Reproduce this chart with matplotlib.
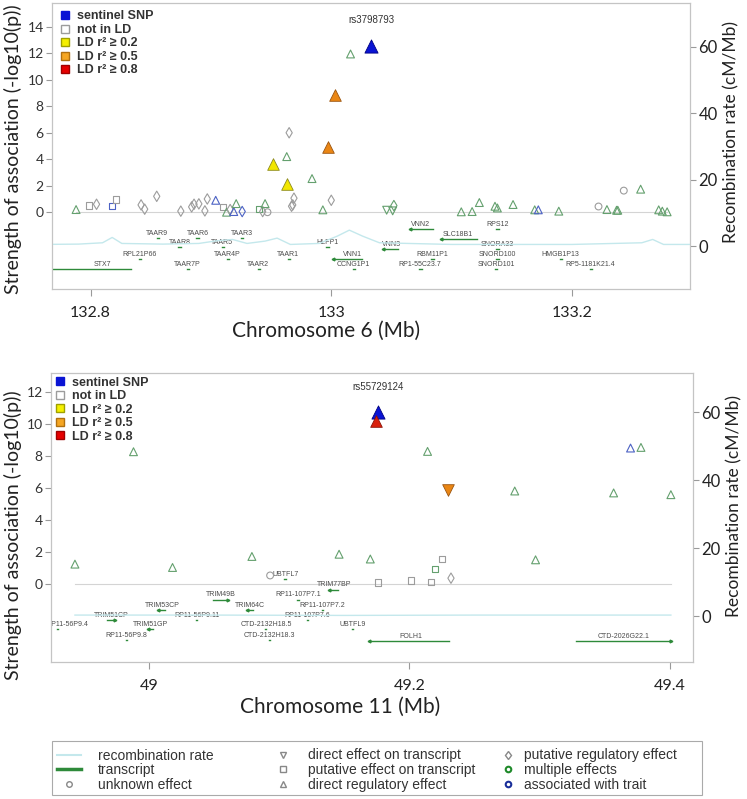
import matplotlib
matplotlib.use("Agg")
import matplotlib.pyplot as plt
from matplotlib.lines import Line2D
from matplotlib.patches import Rectangle

plt.rcParams['font.family'] = ['Lato', 'DejaVu Sans']
ARIAL = ['Liberation Sans', 'DejaVu Sans']
NARROW = ['Liberation Sans Narrow', 'Liberation Sans', 'DejaVu Sans']

# ---------------- chromosome 6 locus (top panel) ----------------
# shape: ^ direct regulatory, v direct on transcript, s putative on transcript,
#        d putative regulatory, o unknown
# edge:  g = single effect, m = multiple effects, t = associated with trait
# ld:    '' not in LD, '0.2', '0.5', '0.8', 'sent' sentinel
chr6_pos = [132.788, 132.799, 132.805, 132.818, 132.821, 132.842, 132.845, 132.855,
            132.875, 132.884, 132.886, 132.890, 132.895, 132.897, 132.904, 132.910,
            132.913, 132.916, 132.919, 132.921, 132.926, 132.940, 132.943, 132.945,
            132.947, 132.952, 132.963, 132.965, 132.963, 132.967, 132.968, 132.969,
            132.984, 132.993, 132.997, 133.000, 133.003, 133.016, 133.033, 133.046,
            133.051, 133.052, 133.108, 133.117, 133.123, 133.136, 133.138, 133.151,
            133.169, 133.172, 133.189, 133.222, 133.229, 133.237, 133.238, 133.243,
            133.257, 133.272, 133.275, 133.279]
chr6_logp = [0.2, 0.5, 0.6, 0.45, 0.96, 0.55, 0.23, 1.2,
             0.08, 0.4, 0.6, 0.63, 0.1, 1.0, 0.9, 0.4,
             0.0, 0.2, 0.05, 0.65, 0.05, 0.25, 0.05, 0.65,
             0.0, 3.67, 4.2, 6.0, 2.14, 0.45, 0.55, 1.06,
             2.54, 0.18, 4.96, 0.9, 8.88, 11.95, 12.53, 0.15,
             0.1, 0.5, 0.03, 0.05, 0.73, 0.45, 0.32, 0.58,
             0.18, 0.18, 0.08, 0.43, 0.2, 0.15, 0.15, 1.63,
             1.74, 0.18, 0.08, 0.03]
chr6_shape = ['^', 's', 'd', 's', 's', 'd', 'd', 'd',
              'd', 'd', 'd', 'd', 'd', 'd', '^', 's',
              '^', 'd', '^', '^', 'd', 's', 'd', '^',
              'o', '^', '^', 'd', '^', 'd', 'd', 'd',
              '^', '^', '^', 'd', '^', '^', '^', 'v',
              'v', 'd', '^', '^', '^', '^', '^', '^',
              '^', '^', '^', 'o', '^', '^', '^', 'o',
              '^', '^', '^', '^']
chr6_edge = ['m', 'g', 'g', 't', 'g', 'g', 'g', 'g',
             'g', 'g', 'g', 'g', 'g', 'g', 't', 'g',
             'm', 'g', 't', 'm', 't', 'm', 'g', 'm',
             'g', 'g', 'm', 'g', 'g', 'g', 'g', 'g',
             'm', 'm', 'g', 'g', 'g', 'm', 't', 'm',
             'm', 'm', 'm', 'm', 'm', 'm', 'm', 'm',
             'm', 't', 'm', 'g', 'm', 'm', 'm', 'g',
             'm', 'm', 'm', 'm']
chr6_ld = [''] * 60
chr6_ld[25] = '0.2'
chr6_ld[28] = '0.2'
chr6_ld[34] = '0.5'
chr6_ld[36] = '0.5'
chr6_ld[38] = 'sent'
chr6_sentinel = 'rs3798793'

chr6_recomb_pos = [132.76, 132.79, 132.81, 132.818, 132.826, 132.86, 132.89, 132.905,
                   132.918, 132.93, 132.945, 132.955, 132.966, 132.99, 133.005, 133.015,
                   133.026, 133.04, 133.1, 133.2, 133.258, 133.267, 133.276, 133.3]
chr6_recomb_rate = [0.5, 0.6, 1.0, 2.6, 0.8, 0.6, 0.8, 1.6,
                    2.0, 0.8, 1.5, 2.4, 0.5, 0.8, 3.0, 4.8,
                    3.0, 1.0, 0.5, 0.5, 1.0, 2.0, 0.5, 0.5]

chr6_genes = ['TAAR9', 'TAAR6', 'TAAR3', 'TAAR8', 'TAAR5', 'HLFP1', 'RPL21P66', 'TAAR4P',
              'TAAR1', 'VNN1', 'STX7', 'TAAR7P', 'TAAR2', 'CCNG1P1', 'VNN2', 'RPS12',
              'SLC18B1', 'VNN3', 'SNORA33', 'RBM11P1', 'SNORD100', 'HMGB1P13',
              'RP1-55C23.7', 'SNORD101', 'RP5-1181K21.4']
chr6_gene_start = [132.855, 132.888, 132.925, 132.873, 132.909, 132.996, 132.840, 132.913,
                   132.964, 133.0017, 132.74, 132.880, 132.939, 133.018, 133.0656, 133.137,
                   133.0913, 133.0432, 133.137, 133.083, 133.137, 133.190,
                   133.073, 133.136, 133.215]
chr6_gene_end = [132.857, 132.890, 132.927, 132.875, 132.911, 132.998, 132.842, 132.915,
                 132.966, 133.0257, 132.834, 132.882, 132.941, 133.020, 133.0846, 133.139,
                 133.1212, 133.0556, 133.139, 133.085, 133.139, 133.192,
                 133.075, 133.138, 133.217]
chr6_gene_row = [-1.96, -1.96, -1.96, -2.64, -2.64, -2.64, -3.55, -3.55,
                 -3.55, -3.55, -4.3, -4.3, -4.3, -4.3, -1.28, -1.28,
                 -2.04, -2.79, -2.79, -3.55, -3.55, -3.55,
                 -4.3, -4.3, -4.3]
chr6_gene_label_x = [132.8556, 132.8888, 132.9261, 132.8739, 132.9095, 132.9967, 132.8407, 132.9137,
                     132.9643, 133.0174, 132.810, 132.8805, 132.9394, 133.0183, 133.0739, 133.1378,
                     133.1054, 133.0498, 133.1378, 133.0838, 133.1378, 133.190,
                     133.0739, 133.1369, 133.215]
chr6_gene_strand = ['', '', '', '', '', '', '', '', '', '<', '', '', '', '', '<', '',
                    '<', '<', '', '', '', '', '', '', '']

# ---------------- chromosome 11 locus (bottom panel) ----------------
chr11_pos = [48.943, 48.988, 49.018, 49.079, 49.093, 49.146, 49.170, 49.176,
             49.174, 49.176, 49.214, 49.2015, 49.2164, 49.220, 49.2254, 49.232,
             49.2295, 49.281, 49.297, 49.357, 49.370, 49.378, 49.401]
chr11_logp = [1.23, 8.27, 1.02, 1.71, 0.52, 1.85, 1.55, 10.73,
              10.19, 0.08, 8.29, 0.2, 0.1, 0.94, 1.54, 0.35,
              5.87, 5.81, 1.5, 5.69, 8.5, 8.54, 5.58]
chr11_shape = ['^', '^', '^', '^', 'o', '^', '^', '^',
               '^', 's', '^', 's', 's', 's', 's', 'd',
               'v', '^', '^', '^', '^', '^', '^']
chr11_edge = ['m', 'm', 'm', 'm', 'g', 'm', 'm', 't',
              'g', 'g', 'm', 'g', 'g', 'm', 'g', 'g',
              'g', 'm', 'm', 'm', 't', 'm', 'm']
chr11_ld = [''] * 23
chr11_ld[7] = 'sent'
chr11_ld[8] = '0.8'
chr11_ld[16] = '0.5'
chr11_sentinel = 'rs55729124'

chr11_recomb_pos = [48.943, 49.05, 49.15, 49.25, 49.35, 49.401]
chr11_recomb_rate = [0.3, 0.3, 0.2, 0.3, 0.3, 0.3]

chr11_genes = ['UBTFL7', 'TRIM77BP', 'TRIM49B', 'RP11-107P7.1', 'TRIM53CP', 'TRIM64C',
               'RP11-107P7.2', 'TRIM51CP', 'RP11-56P9.11', 'RP11-107P7.6', 'RP11-56P9.4',
               'TRIM51GP', 'CTD-2132H18.5', 'UBTFL9', 'RP11-56P9.8', 'CTD-2132H18.3',
               'FOLH1', 'CTD-2026G22.1']
chr11_gene_start = [49.104, 49.138, 49.049, 49.114, 49.007, 49.075,
                    49.1325, 48.968, 49.036, 49.121, 48.929,
                    48.999, 49.089, 49.156, 48.982, 49.092,
                    49.1687, 49.3277]
chr11_gene_end = [49.105, 49.145, 49.061, 49.115, 49.012, 49.080,
                  49.1335, 48.974, 49.037, 49.122, 48.930,
                  49.003, 49.090, 49.157, 48.983, 49.093,
                  49.2302, 49.4008]
chr11_gene_row = [0.27, -0.36, -1.0, -1.0, -1.67, -1.67,
                  -1.67, -2.29, -2.29, -2.29, -2.86,
                  -2.86, -2.86, -2.86, -3.54, -3.54,
                  -3.6, -3.6]
chr11_gene_label_x = [49.1046, 49.1425, 49.0554, 49.1144, 49.0105, 49.0777,
                      49.1328, 48.9708, 49.0367, 49.1213, 48.9375,
                      49.0008, 49.090, 49.1564, 48.9823, 49.0925,
                      49.2008, 49.3649]
chr11_gene_strand = ['', '<', '>', '', '<', '<', '', '>', '', '', '',
                     '<', '', '', '', '', '<', '>']

# ---------------- styles ----------------
EDGE = {'g': '#9c9c9c', 'm': '#64a06e', 't': '#4c62c4'}
FILL = {'0.2': '#f2e600', '0.5': '#ea8614', '0.8': '#d9200c', 'sent': '#0a14d4'}
FILL_EDGE = {'0.2': '#8c8a1c', '0.5': '#9a5410', '0.8': '#8a1408', 'sent': '#000080'}
GENE_GREEN = '#2e8a3a'
RECOMB = '#c4e8ec'
SPINE = '#c4c4c4'


def draw_panel(ax, pos, logp, shape, edge, ld, sentinel, rpos, rrate,
               genes, gstart, gend, grow, glabx, gstrand,
               xlim, ylim, yticks, xticks, xticklabels, rlim, xlabel,
               xlab_xy, ylab_xy, rlab_xy, leg_pad):
    ax.set_xlim(*xlim)
    ax.set_ylim(*ylim)
    ax.plot([min(pos), max(pos)], [0, 0], color='#d4d4d4', lw=0.8, zorder=1)

    # transcripts
    for name, s, e, y, lx, st in zip(genes, gstart, gend, grow, glabx, gstrand):
        ax.plot([s, e], [y, y], color=GENE_GREEN, lw=1.0, zorder=2, clip_on=True)
        if st == '<':
            ax.plot([s], [y], marker='<', ms=2, color=GENE_GREEN, zorder=2)
        elif st == '>':
            ax.plot([e], [y], marker='>', ms=2, color=GENE_GREEN, zorder=2)
        ax.annotate(name, (lx, y), xytext=(0, 3.5), textcoords='offset points',
                    ha='center', va='center', fontsize=5, color='#4a4a4a',
                    family=ARIAL, annotation_clip=False, clip_on=True)

    # SNPs: open markers first, LD coloured ones on top
    for x, y, m, ec, l in zip(pos, logp, shape, edge, ld):
        sz = {'^': 32, 'v': 32, 's': 20, 'd': 28, 'o': 24}[m]
        if l:
            ax.scatter([x], [y], marker=m, s=90 if l == 'sent' else 70,
                       facecolor=FILL[l], edgecolor=FILL_EDGE[l], lw=0.6, zorder=4)
        else:
            ax.scatter([x], [y], marker=m, s=sz, facecolor='none',
                       edgecolor=EDGE[ec], lw=0.8, zorder=3)
    i = ld.index('sent')
    ax.annotate(sentinel, (pos[i], logp[i]), xytext=(0, 15), textcoords='offset points',
                ha='center', va='bottom', fontsize=7, color='#333333', family=ARIAL)

    ax.set_yticks(yticks)
    ax.set_xticks(xticks)
    ax.set_xticklabels(xticklabels)
    ax.tick_params(axis='y', length=4, color='#9a9a9a', labelsize=10, pad=2,
                   labelcolor='#333333')
    ax.tick_params(axis='x', length=5, color='#9a9a9a', labelsize=11.5, pad=7,
                   labelcolor='#222222')
    for sp in ax.spines.values():
        sp.set_color(SPINE)
    ax.set_xlabel(xlabel, fontsize=15, color='#222222')
    ax.xaxis.set_label_coords(*xlab_xy)
    ax.set_ylabel('Strength of association (-log10(p))', fontsize=14, color='#222222')
    ax.yaxis.set_label_coords(*ylab_xy)

    # in-panel LD legend
    handles = [
        Line2D([], [], ls='none', marker='s', ms=6, mfc=FILL['sent'], mec=FILL['sent']),
        Line2D([], [], ls='none', marker='s', ms=6, mfc='white', mec='#9c9c9c'),
        Line2D([], [], ls='none', marker='s', ms=6, mfc='#f5f000', mec='#a0a000'),
        Line2D([], [], ls='none', marker='s', ms=6, mfc='#f5a623', mec='#b07010'),
        Line2D([], [], ls='none', marker='s', ms=6, mfc='#e60000', mec='#a00000'),
    ]
    labels = ['sentinel SNP', 'not in LD', 'LD r² ≥ 0.2', 'LD r² ≥ 0.5', 'LD r² ≥ 0.8']
    ax.legend(handles, labels, loc='upper left', frameon=False,
              prop={'family': ARIAL, 'size': 9, 'weight': 'bold'},
              handlelength=0.8, handletextpad=0.6, labelspacing=0.12,
              borderaxespad=leg_pad, borderpad=0.3, labelcolor='#333333')

    ax2 = ax.twinx()
    ax2.plot(rpos, rrate, color=RECOMB, lw=1.0, zorder=0)
    ax2.set_xlim(*xlim)
    ax2.set_ylim(*rlim)
    ax2.set_yticks([0, 20, 40, 60])
    ax2.tick_params(axis='y', length=4, color='#9a9a9a', labelsize=12, pad=2,
                    labelcolor='#222222')
    for sp in ax2.spines.values():
        sp.set_color(SPINE)
    ax2.set_ylabel('Recombination rate (cM/Mb)', fontsize=12.5, color='#222222')
    ax2.yaxis.set_label_coords(*rlab_xy)
    return ax2


fig = plt.figure(figsize=(7.47, 7.99), dpi=100)

ax_top = fig.add_axes([52 / 747, 1 - 289 / 799, 638 / 747, 286 / 799])
draw_panel(ax_top, chr6_pos, chr6_logp, chr6_shape, chr6_edge, chr6_ld, chr6_sentinel,
           chr6_recomb_pos, chr6_recomb_rate,
           chr6_genes, chr6_gene_start, chr6_gene_end, chr6_gene_row,
           chr6_gene_label_x, chr6_gene_strand,
           xlim=(132.768, 133.298), ylim=(-5.8, 15.8), yticks=range(0, 15, 2),
           xticks=[132.8, 133.0, 133.2], xticklabels=['132.8', '133', '133.2'],
           rlim=(-12.9, 73.1), xlabel='Chromosome 6 (Mb)',
           xlab_xy=(0.43, -0.113), ylab_xy=(-0.047, 0.49), rlab_xy=(1.052, 0.55),
           leg_pad=0.3)

ax_bot = fig.add_axes([51 / 747, 1 - 662 / 799, 642 / 747, 289 / 799])
draw_panel(ax_bot, chr11_pos, chr11_logp, chr11_shape, chr11_edge, chr11_ld, chr11_sentinel,
           chr11_recomb_pos, chr11_recomb_rate,
           chr11_genes, chr11_gene_start, chr11_gene_end, chr11_gene_row,
           chr11_gene_label_x, chr11_gene_strand,
           xlim=(48.9246, 49.418), ylim=(-4.9, 13.2), yticks=range(0, 13, 2),
           xticks=[49.0, 49.2, 49.4], xticklabels=['49', '49.2', '49.4'],
           rlim=(-13.5, 71.5), xlabel='Chromosome 11 (Mb)',
           xlab_xy=(0.45, -0.12), ylab_xy=(-0.045, 0.44), rlab_xy=(1.052, 0.54),
           leg_pad=0.0)

# shared key at the bottom: a frame with three columns
fig.patches.append(Rectangle((52 / 747, 4 / 799), 650 / 747, 54 / 799,
                             transform=fig.transFigure, fill=False,
                             edgecolor='#aaaaaa', lw=0.8))
GRAY = '#888888'
key_cols = [
    ([Line2D([], [], color=RECOMB, lw=1.5),
      Line2D([], [], color=GENE_GREEN, lw=2.5),
      Line2D([], [], ls='none', marker='o', ms=4, mfc='none', mec=GRAY)],
     ['recombination rate', 'transcript', 'unknown effect'], 57, 1.25),
    ([Line2D([], [], ls='none', marker='v', ms=5, mfc='none', mec=GRAY),
      Line2D([], [], ls='none', marker='s', ms=4, mfc='none', mec=GRAY),
      Line2D([], [], ls='none', marker='^', ms=5, mfc='none', mec=GRAY)],
     ['direct effect on transcript', 'putative effect on transcript',
      'direct regulatory effect'], 271, 0.95),
    ([Line2D([], [], ls='none', marker='d', ms=4.5, mfc='none', mec=GRAY),
      Line2D([], [], ls='none', marker='o', ms=4, mfc='none', mec='#1f8a2a', mew=1.5),
      Line2D([], [], ls='none', marker='o', ms=4, mfc='none', mec='#1a2f9a', mew=1.5)],
     ['putative regulatory effect', 'multiple effects', 'associated with trait'], 496, 0.3),
]
for handles, labels, left, tpad in key_cols:
    fig.legend(handles, labels, loc='upper left',
               bbox_to_anchor=(left / 747, 1 - 748.5 / 799),
               prop={'family': NARROW, 'size': 10}, labelcolor='#333333',
               frameon=False, handlelength=1.7, handletextpad=tpad,
               labelspacing=0.05, borderpad=0, borderaxespad=0)

fig.savefig('out.png', dpi=100)
